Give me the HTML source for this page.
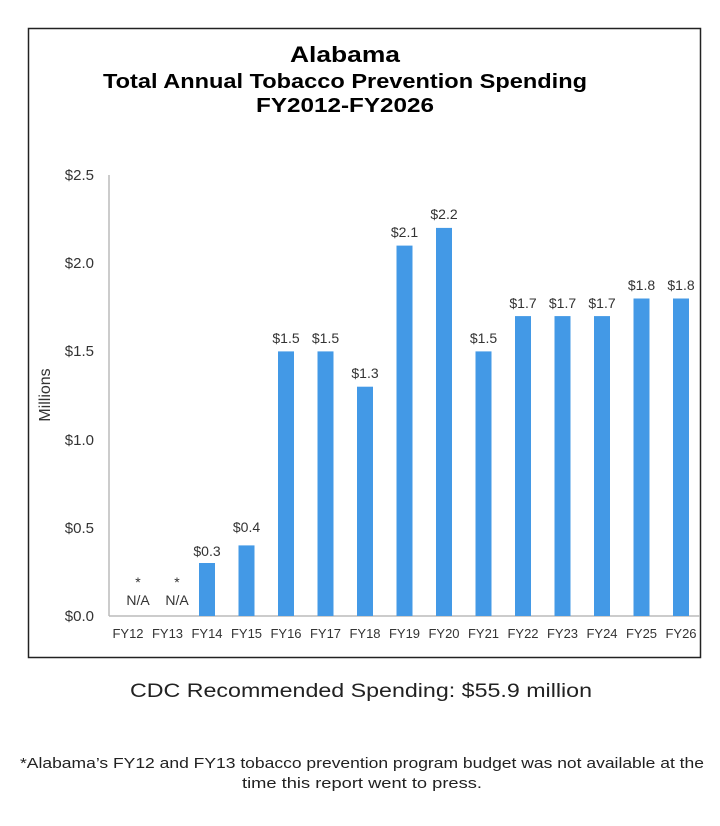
<!DOCTYPE html>
<html><head><meta charset="utf-8"><style>
body{margin:0;background:#fff;}
svg text{font-family:"Liberation Sans",sans-serif;}
</style></head><body>
<svg width="720" height="821" viewBox="0 0 720 821" xmlns="http://www.w3.org/2000/svg">
<rect x="0" y="0" width="720" height="821" fill="#fff"/>
<rect x="28.5" y="28.5" width="672" height="629" fill="#fff" stroke="#222" stroke-width="1.5"/>
<text x="345" y="62" font-size="22" font-weight="bold" text-anchor="middle" fill="#000" textLength="110" lengthAdjust="spacingAndGlyphs">Alabama</text>
<text x="345" y="88" font-size="20" font-weight="bold" text-anchor="middle" fill="#000" textLength="484" lengthAdjust="spacingAndGlyphs">Total Annual Tobacco Prevention Spending</text>
<text x="345" y="112" font-size="20" font-weight="bold" text-anchor="middle" fill="#000" textLength="178" lengthAdjust="spacingAndGlyphs">FY2012-FY2026</text>
<g font-size="15" fill="#333" text-anchor="end">
<text x="94" y="180">$2.5</text>
<text x="94" y="268">$2.0</text>
<text x="94" y="356">$1.5</text>
<text x="94" y="445">$1.0</text>
<text x="94" y="533">$0.5</text>
<text x="94" y="621">$0.0</text>
</g>
<text transform="translate(50,395) rotate(-90)" font-size="16" fill="#333" text-anchor="middle">Millions</text>
<line x1="109" y1="175" x2="109" y2="616" stroke="#bbb" stroke-width="1.5"/>
<line x1="109" y1="616" x2="700" y2="616" stroke="#bbb" stroke-width="1.5"/>
<g fill="#4399e6">
<rect x="199" y="563" width="16" height="53"/>
<rect x="238.5" y="545.4" width="16" height="70.6"/>
<rect x="278" y="351.4" width="16" height="264.6"/>
<rect x="317.5" y="351.4" width="16" height="264.6"/>
<rect x="357" y="386.7" width="16" height="229.3"/>
<rect x="396.5" y="245.6" width="16" height="370.4"/>
<rect x="436" y="227.9" width="16" height="388.1"/>
<rect x="475.5" y="351.4" width="16" height="264.6"/>
<rect x="515" y="316.1" width="16" height="299.9"/>
<rect x="554.5" y="316.1" width="16" height="299.9"/>
<rect x="594" y="316.1" width="16" height="299.9"/>
<rect x="633.5" y="298.5" width="16" height="317.5"/>
<rect x="673" y="298.5" width="16" height="317.5"/>
</g>
<g font-size="14" fill="#333" text-anchor="middle">
<text x="207" y="556">$0.3</text>
<text x="246.5" y="532">$0.4</text>
<text x="286" y="343">$1.5</text>
<text x="325.5" y="343">$1.5</text>
<text x="365" y="378">$1.3</text>
<text x="404.5" y="237">$2.1</text>
<text x="444" y="219">$2.2</text>
<text x="483.5" y="343">$1.5</text>
<text x="523" y="308">$1.7</text>
<text x="562.5" y="308">$1.7</text>
<text x="602" y="308">$1.7</text>
<text x="641.5" y="290">$1.8</text>
<text x="681" y="290">$1.8</text>
<text x="138" y="587">*</text>
<text x="177" y="587">*</text>
<text x="138" y="605">N/A</text>
<text x="177" y="605">N/A</text>
</g>
<g font-size="13" fill="#333" text-anchor="middle">
<text x="128" y="638">FY12</text>
<text x="167.5" y="638">FY13</text>
<text x="207" y="638">FY14</text>
<text x="246.5" y="638">FY15</text>
<text x="286" y="638">FY16</text>
<text x="325.5" y="638">FY17</text>
<text x="365" y="638">FY18</text>
<text x="404.5" y="638">FY19</text>
<text x="444" y="638">FY20</text>
<text x="483.5" y="638">FY21</text>
<text x="523" y="638">FY22</text>
<text x="562.5" y="638">FY23</text>
<text x="602" y="638">FY24</text>
<text x="641.5" y="638">FY25</text>
<text x="681" y="638">FY26</text>
</g>
<text x="361" y="697" font-size="19" fill="#222" text-anchor="middle" textLength="462" lengthAdjust="spacingAndGlyphs">CDC Recommended Spending: $55.9 million</text>
<text x="362" y="768" font-size="15" fill="#222" text-anchor="middle" textLength="684" lengthAdjust="spacingAndGlyphs">*Alabama’s FY12 and FY13 tobacco prevention program budget was not available at the</text>
<text x="362" y="788" font-size="15" fill="#222" text-anchor="middle" textLength="240" lengthAdjust="spacingAndGlyphs">time this report went to press.</text>
</svg>
</body></html>
